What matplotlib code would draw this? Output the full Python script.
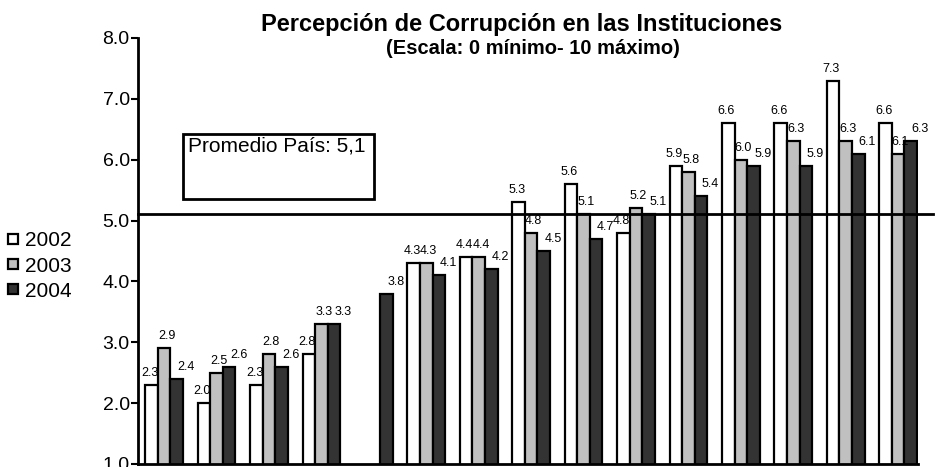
import numpy as np
import matplotlib
matplotlib.use("Agg")
import matplotlib.pyplot as plt
from matplotlib.lines import Line2D

plt.rcParams['font.family'] = ['Liberation Sans', 'DejaVu Sans']

years = ["2002", "2003", "2004"]
v2002 = [2.3, 2.0, 2.3, 2.8, np.nan, 4.3, 4.4, 5.3, 5.6, 4.8, 5.9, 6.6, 6.6, 7.3, 6.6]
v2003 = [2.9, 2.5, 2.8, 3.3, np.nan, 4.3, 4.4, 4.8, 5.1, 5.2, 5.8, 6.0, 6.3, 6.3, 6.1]
v2004 = [2.4, 2.6, 2.6, 3.3, 3.8, 4.1, 4.2, 4.5, 4.7, 5.1, 5.4, 5.9, 5.9, 6.1, 6.3]
promedio = 5.1
colors = ["#FFFFFF", "#C0C0C0", "#333333"]

fig = plt.figure(figsize=(9.41, 4.67), dpi=100)
ax = fig.add_axes([138/941, 1-464/467, 780/941, (464-38)/467])

n = len(v2002)
x = np.arange(n)
w = 0.24
series = [v2002, v2003, v2004]
handles = []
# label alignment per series: (x offset in bar widths, horizontal alignment)
label_style = [(0.55, "right"), (-0.5, "left"), (0.05, "left")]
for i, (vals, col, yr) in enumerate(zip(series, colors, years)):
    pos = x + (i - 1) * w
    ax.bar(pos, vals, width=w, bottom=0, color=col, edgecolor="black", linewidth=1.6, zorder=2)
    dx, ha = label_style[i]
    for p, v in zip(pos, vals):
        if not np.isnan(v):
            ax.text(p + dx * w, v + 0.1, f"{v:.1f}", ha=ha, va="bottom", fontsize=9, zorder=3)
    handles.append(Line2D([], [], marker="s", linestyle="none", markersize=7,
                          markerfacecolor=col, markeredgecolor="black", markeredgewidth=1.6, label=yr))

ax.set_ylim(1.0, 8.0)
ax.set_xlim(-0.5, 14.38)
ax.set_yticks(np.arange(1, 9))
ax.set_yticklabels([f"{t:.1f}" for t in np.arange(1, 9)], fontsize=14)
ax.set_xticks([])
ax.tick_params(axis="y", direction="out", length=5, width=1.5, pad=1)
for s in ["top", "right"]:
    ax.spines[s].set_visible(False)
for s in ["left", "bottom"]:
    ax.spines[s].set_linewidth(2)
    ax.spines[s].set_zorder(4)

ax.axhline(promedio, xmin=0, xmax=(933-138)/780, color="black", linewidth=2, clip_on=False, zorder=3)

# Promedio box
fig.text(188/941, 1-137/467, "Promedio País: 5,1", fontsize=15, ha="left", va="top")
fig.patches.append(plt.Rectangle((183/941, 1-199/467), (374-183)/941, (199-134)/467,
                                 transform=fig.transFigure, fill=False, edgecolor="black", linewidth=2))

fig.text(522/941, 1-25/467, "Percepción de Corrupción en las Instituciones",
         fontsize=17, fontweight="bold", ha="center", va="center")
fig.text(533/941, 1-48/467, "(Escala: 0 mínimo- 10 máximo)",
         fontsize=14.5, fontweight="bold", ha="center", va="center")

fig.legend(handles=handles, loc="center left", bbox_to_anchor=(8/941, 1-266/467),
           frameon=False, fontsize=15, handlelength=0.5, handletextpad=0.3,
           labelspacing=0.3, borderpad=0, borderaxespad=0)

fig.savefig("out.png", dpi=100)
